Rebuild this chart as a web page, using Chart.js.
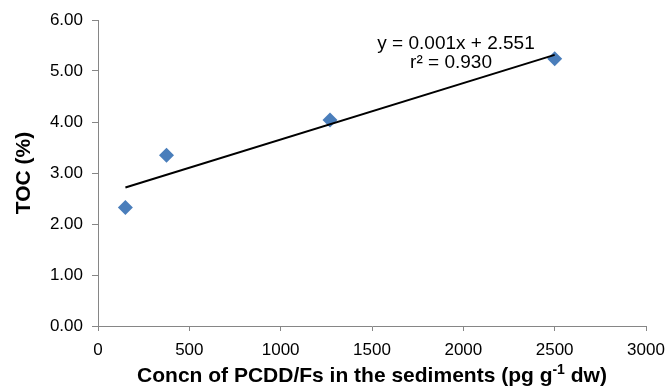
<!DOCTYPE html>
<html>
<head>
<meta charset="utf-8">
<script src="https://cdn.jsdelivr.net/npm/chart.js@4.4.1/dist/chart.umd.min.js"></script>
<style>
  html, body { margin: 0; padding: 0; background: #fff; }
</style>
</head>
<body>
<canvas id="tocChart" width="668" height="388"></canvas>
<script>
// PCDD/F concentration (pg/g dw) vs total organic carbon (%)
const concn = [150, 375, 1270, 2500];
const toc = [2.325, 3.35, 4.04, 5.24];
const xTicks = [0, 500, 1000, 1500, 2000, 2500, 3000];
const yTicks = [0, 1, 2, 3, 4, 5, 6];

const FONT = '"Liberation Sans", Arial, Helvetica, sans-serif';
const AXIS_GREY = '#868686';

// least squares fit for the trendline
function linearFit(xs, ys) {
  const n = xs.length;
  const mx = xs.reduce((a, b) => a + b, 0) / n;
  const my = ys.reduce((a, b) => a + b, 0) / n;
  let sxy = 0, sxx = 0, syy = 0;
  for (let i = 0; i < n; i++) {
    sxy += (xs[i] - mx) * (ys[i] - my);
    sxx += (xs[i] - mx) ** 2;
    syy += (ys[i] - my) ** 2;
  }
  const slope = sxy / sxx;
  return { slope, intercept: my - slope * mx, r2: (sxy * sxy) / (sxx * syy) };
}

const fit = linearFit(concn, toc);
const xMin = Math.min(...concn);
const xMax = Math.max(...concn);
const trend = [xMin, xMax].map(x => ({ x, y: fit.slope * x + fit.intercept }));
const points = concn.map((x, i) => ({ x, y: toc[i] }));

// equation label + x title with superscript
const textPlugin = {
  id: 'extraText',
  afterDraw(chart) {
    const c = chart.ctx;
    const xs = chart.scales.x, ys = chart.scales.y;
    c.save();
    c.fillStyle = '#000';
    c.textAlign = 'center';
    c.textBaseline = 'alphabetic';
    c.font = '19px ' + FONT;
    const ex = xs.getPixelForValue(1960);
    c.fillText('y = ' + fit.slope.toFixed(3) + 'x + ' + fit.intercept.toFixed(3), ex, ys.getPixelForValue(5.43));
    c.fillText('r\u00B2 = ' + fit.r2.toFixed(3), ex - 5, ys.getPixelForValue(5.06));

    // axis title: Concn of PCDD/Fs in the sediments (pg g-1 dw)
    const main = 'bold 21px ' + FONT, sup = 'bold 14px ' + FONT;
    const parts = [
      ['Concn of PCDD/Fs in the sediments (pg g', main, 0],
      ['-1', sup, -8],
      [' dw)', main, 0]
    ];
    let w = 0;
    parts.forEach(p => { c.font = p[1]; w += c.measureText(p[0]).width; });
    let x = 372 - w / 2;
    c.textAlign = 'left';
    parts.forEach(p => {
      c.font = p[1];
      c.fillText(p[0], x, 382 + p[2]);
      x += c.measureText(p[0]).width;
    });
    c.restore();
  }
};

new Chart(document.getElementById('tocChart'), {
  type: 'scatter',
  data: {
    datasets: [
      {
        type: 'line',
        data: trend,
        borderColor: '#000',
        borderWidth: 2,
        pointRadius: 0,
        fill: false
      },
      {
        data: points,
        pointStyle: 'rectRot',
        pointRadius: 7.5,
        backgroundColor: '#4A7EBB',
        borderColor: '#4A7EBB',
        borderWidth: 0
      }
    ]
  },
  options: {
    responsive: false,
    animation: false,
    devicePixelRatio: 1,
    layout: { padding: { top: 20, right: 22, bottom: 0, left: 0 } },
    plugins: { legend: { display: false }, tooltip: { enabled: false } },
    scales: {
      x: {
        type: 'linear',
        min: xTicks[0],
        max: xTicks[xTicks.length - 1],
        afterBuildTicks: s => { s.ticks = xTicks.map(v => ({ value: v })); },
        afterFit: s => { s.height = 62; s.paddingLeft = 0; s.paddingRight = 0; },
        border: { color: AXIS_GREY, width: 1 },
        grid: { drawOnChartArea: false, drawTicks: true, tickLength: 5, tickColor: AXIS_GREY },
        ticks: { color: '#000', font: { family: FONT, size: 17 }, padding: 9, maxRotation: 0, callback: v => String(v) }
      },
      y: {
        type: 'linear',
        min: yTicks[0],
        max: yTicks[yTicks.length - 1],
        afterBuildTicks: s => { s.ticks = yTicks.map(v => ({ value: v })); },
        afterFit: s => { s.width = 98; s.paddingTop = 0; s.paddingBottom = 0; },
        border: { color: AXIS_GREY, width: 1 },
        grid: { drawOnChartArea: false, drawTicks: true, tickLength: 6, tickColor: AXIS_GREY },
        ticks: { color: '#000', font: { family: FONT, size: 17 }, padding: 9, callback: v => v.toFixed(2) },
        title: {
          display: true,
          text: 'TOC (%)',
          color: '#000',
          font: { family: FONT, size: 21, weight: 'bold' },
          padding: { top: 12, bottom: 0 }
        }
      }
    }
  },
  plugins: [textPlugin]
});
</script>
</body>
</html>
